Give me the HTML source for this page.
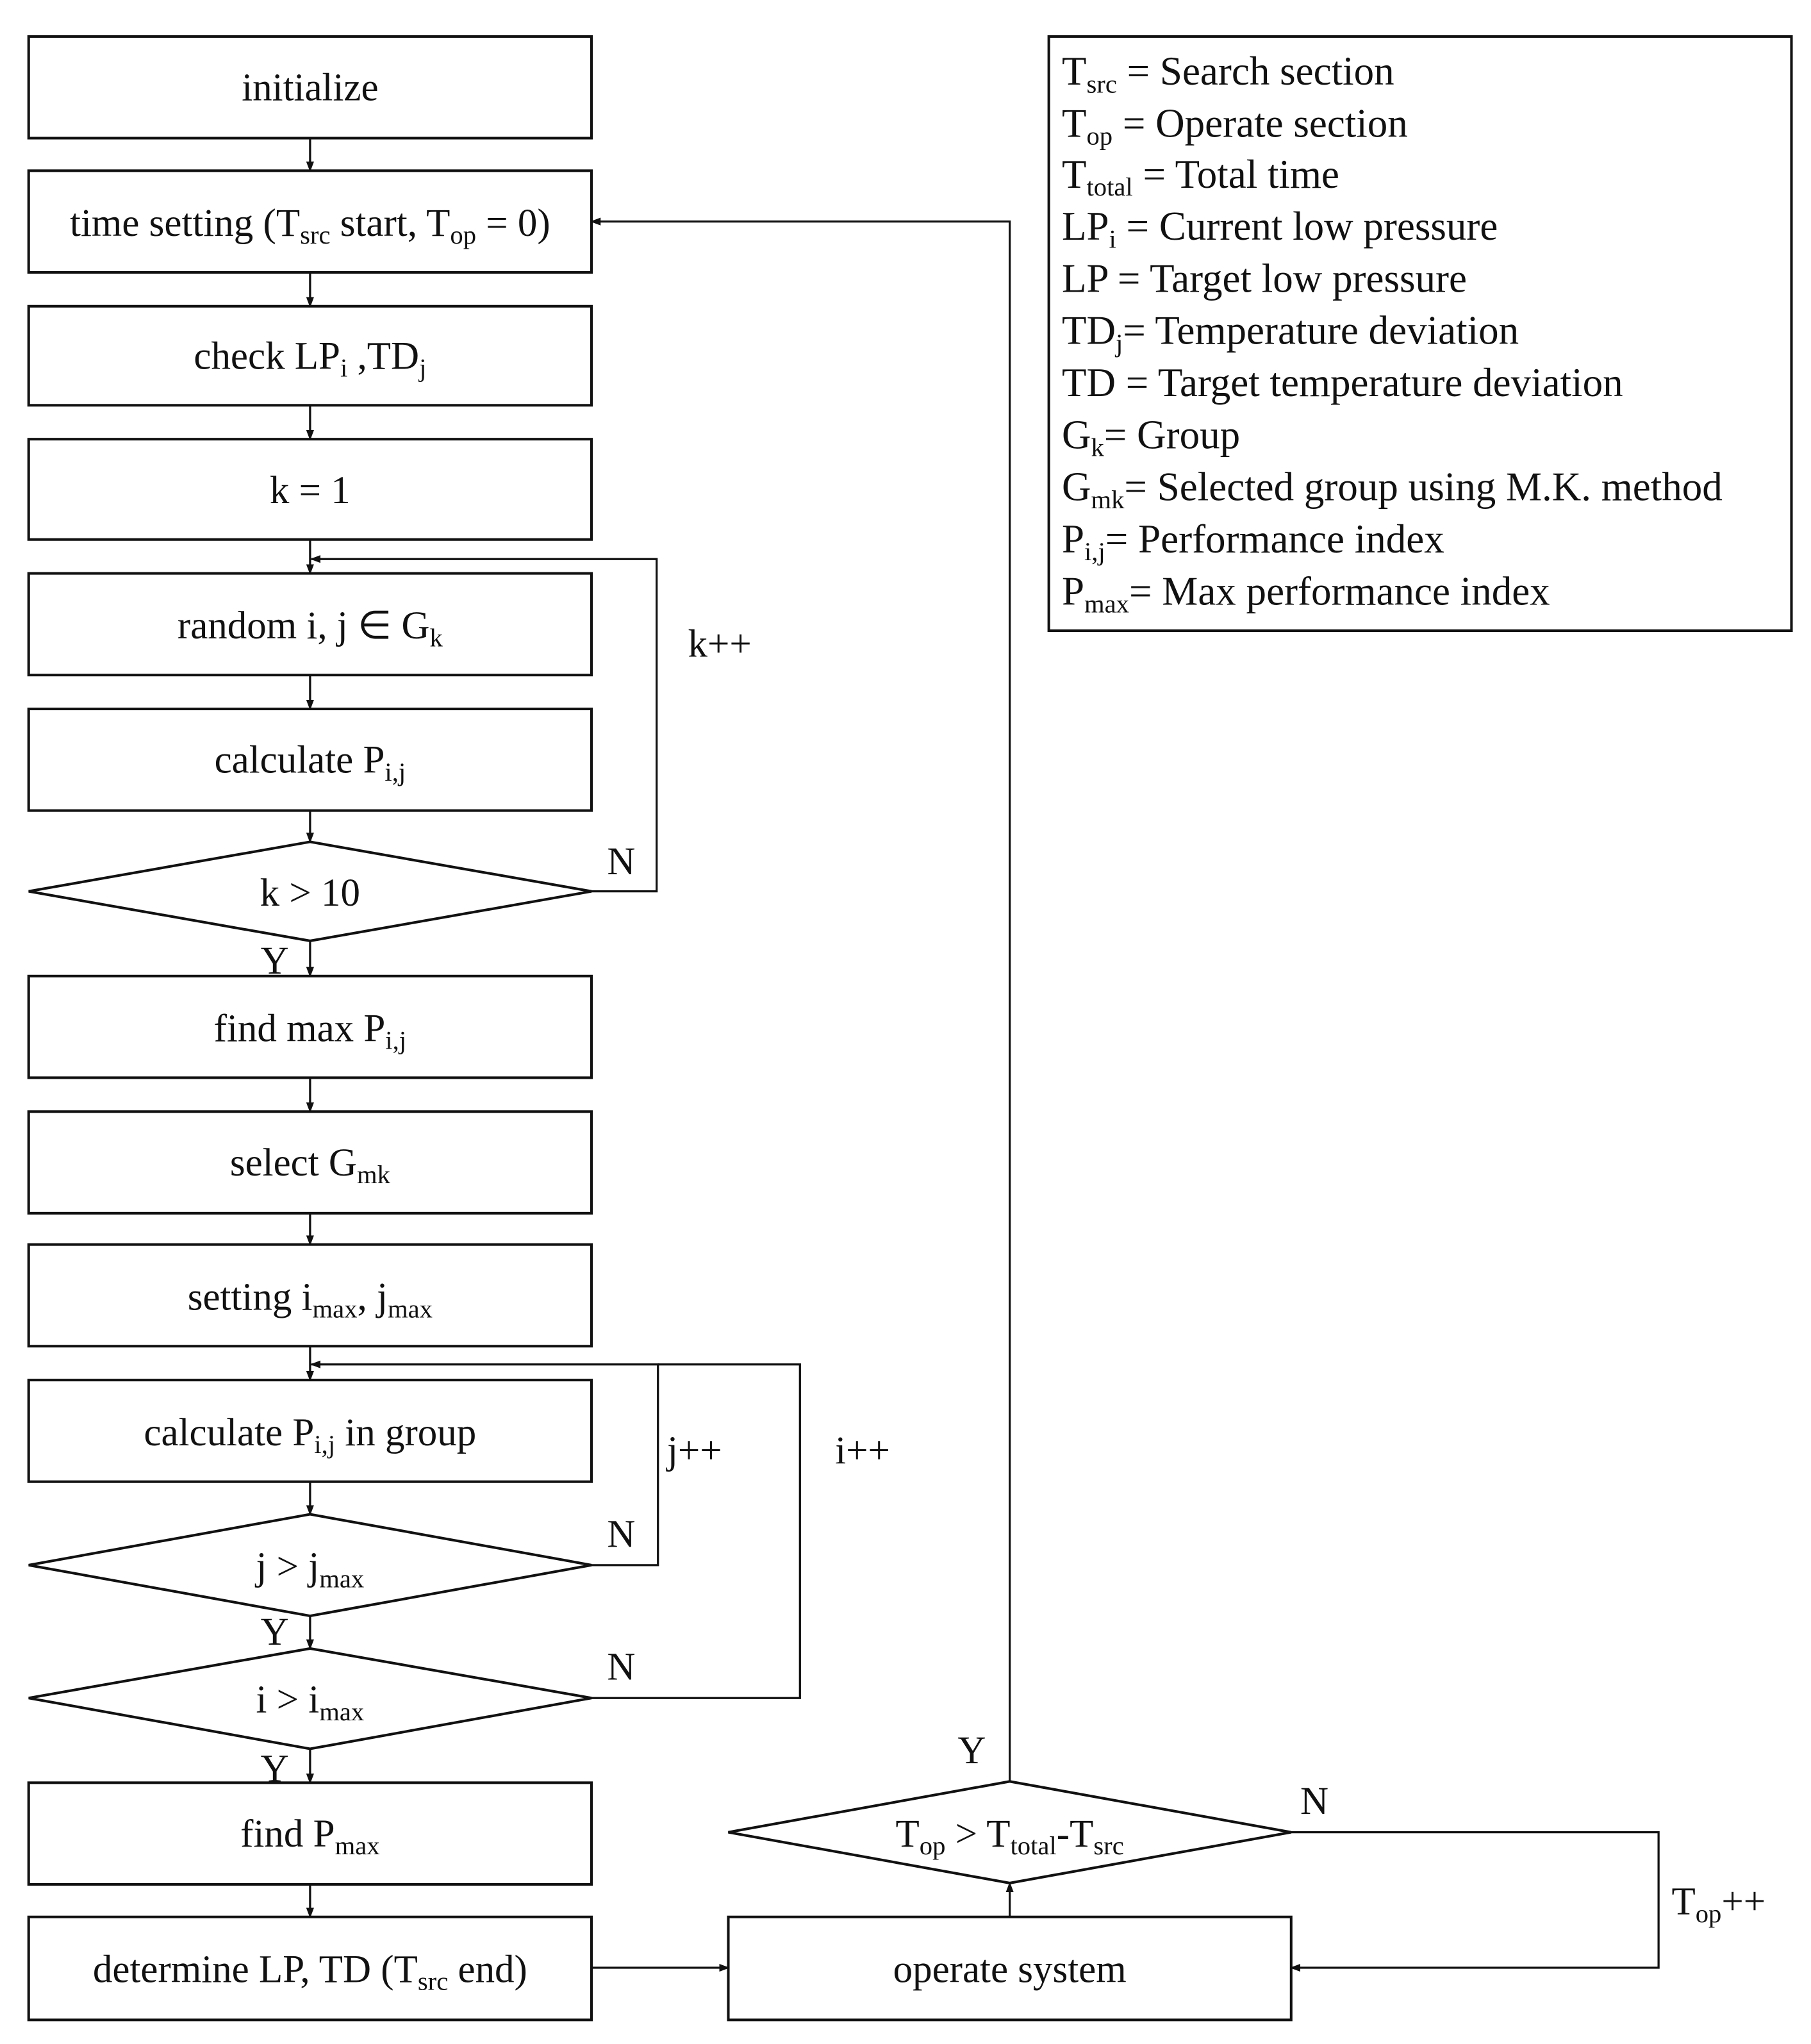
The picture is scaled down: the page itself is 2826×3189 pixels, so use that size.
<!DOCTYPE html>
<html><head><meta charset="utf-8"><style>
html,body{margin:0;padding:0;background:#fff;}
svg{display:block;}
text{font-family:"Liberation Serif",serif;font-size:30px;fill:#111;}
.s{font-size:20px;}
</style></head><body>
<svg width="2826" height="3189" viewBox="0 0 1390 1568.5" preserveAspectRatio="none" xmlns="http://www.w3.org/2000/svg">
<defs><marker id="a" markerWidth="8" markerHeight="8" refX="7" refY="4" orient="auto" markerUnits="userSpaceOnUse"><path d="M0,1 L8,4 L0,7 z" fill="#111"/></marker></defs>
<g fill="#fff" stroke="#111" stroke-width="2">
<rect x="22" y="28" width="432" height="78"/>
<rect x="22" y="131" width="432" height="78"/>
<rect x="22" y="235" width="432" height="76"/>
<rect x="22" y="337" width="432" height="77"/>
<rect x="22" y="440" width="432" height="78"/>
<rect x="22" y="544" width="432" height="78"/>
<polygon points="22,684 238,646 454,684 238,722"/>
<rect x="22" y="749" width="432" height="78"/>
<rect x="22" y="853" width="432" height="78"/>
<rect x="22" y="955" width="432" height="78"/>
<rect x="22" y="1059" width="432" height="78"/>
<polygon points="22,1201 238,1162 454,1201 238,1240"/>
<polygon points="22,1303 238,1265 454,1303 238,1342"/>
<rect x="22" y="1368" width="432" height="78"/>
<rect x="22" y="1471" width="432" height="79"/>
<rect x="559" y="1471" width="432" height="79"/>
<polygon points="559,1406 775,1367 991,1406 775,1445"/>
<rect x="805" y="28" width="570" height="456"/>
</g>
<g stroke="#111" stroke-width="1.6" fill="none" marker-end="url(#a)">
<line x1="238" y1="106" x2="238" y2="131"/>
<line x1="238" y1="209" x2="238" y2="235"/>
<line x1="238" y1="311" x2="238" y2="337"/>
<line x1="238" y1="414" x2="238" y2="440"/>
<line x1="238" y1="518" x2="238" y2="544"/>
<line x1="238" y1="622" x2="238" y2="646"/>
<line x1="238" y1="722" x2="238" y2="749"/>
<line x1="238" y1="827" x2="238" y2="853"/>
<line x1="238" y1="931" x2="238" y2="955"/>
<line x1="238" y1="1033" x2="238" y2="1059"/>
<line x1="238" y1="1137" x2="238" y2="1162"/>
<line x1="238" y1="1240" x2="238" y2="1265"/>
<line x1="238" y1="1342" x2="238" y2="1368"/>
<line x1="238" y1="1446" x2="238" y2="1471"/>
<polyline points="454,684 504,684 504,429 239,429"/>
<polyline points="454,1201 505,1201 505,1047 239,1047"/>
<polyline points="775,1367 775,170 454,170"/>
<polyline points="991,1406 1273,1406 1273,1510 991,1510"/>
<line x1="454" y1="1510" x2="559" y2="1510"/>
<line x1="775" y1="1471" x2="775" y2="1445"/>
</g>
<polyline points="454,1303 614,1303 614,1047 505,1047" stroke="#111" stroke-width="1.6" fill="none"/>
<g text-anchor="middle">
<text x="238" y="77">initialize</text>
<text x="238" y="181">time setting (T<tspan class="s" dy="6">src</tspan><tspan dy="-6"> start, T</tspan><tspan class="s" dy="6">op</tspan><tspan dy="-6"> = 0)</tspan></text>
<text x="238" y="283">check LP<tspan class="s" dy="6">i</tspan><tspan dy="-6"> ,TD</tspan><tspan class="s" dy="6">j</tspan></text>
<text x="238" y="386">k = 1</text>
<text x="238" y="490">random i, j ∈ G<tspan class="s" dy="6">k</tspan></text>
<text x="238" y="593">calculate P<tspan class="s" dy="6">i,j</tspan></text>
<text x="238" y="695">k &gt; 10</text>
<text x="238" y="799">find max P<tspan class="s" dy="6">i,j</tspan></text>
<text x="238" y="902">select G<tspan class="s" dy="6">mk</tspan></text>
<text x="238" y="1005">setting i<tspan class="s" dy="6">max</tspan><tspan dy="-6">, j</tspan><tspan class="s" dy="6">max</tspan></text>
<text x="238" y="1109">calculate P<tspan class="s" dy="6">i,j</tspan><tspan dy="-6"> in group</tspan></text>
<text x="238" y="1212">j &gt; j<tspan class="s" dy="6">max</tspan></text>
<text x="238" y="1314">i &gt; i<tspan class="s" dy="6">max</tspan></text>
<text x="238" y="1417">find P<tspan class="s" dy="6">max</tspan></text>
<text x="238" y="1521">determine LP, TD (T<tspan class="s" dy="6">src</tspan><tspan dy="-6"> end)</tspan></text>
<text x="775" y="1521">operate system</text>
<text x="775" y="1417">T<tspan class="s" dy="6">op</tspan><tspan dy="-6"> &gt; T</tspan><tspan class="s" dy="6">total</tspan><tspan dy="-6">-T</tspan><tspan class="s" dy="6">src</tspan></text>
</g>
<text x="528" y="504">k++</text>
<text x="466" y="671">N</text>
<text x="200" y="747">Y</text>
<text x="512" y="1123">j++</text>
<text x="641" y="1123">i++</text>
<text x="466" y="1187">N</text>
<text x="466" y="1289">N</text>
<text x="200" y="1262">Y</text>
<text x="200" y="1367">Y</text>
<text x="735" y="1353">Y</text>
<text x="998" y="1392">N</text>
<text x="1283" y="1469">T<tspan class="s" dy="6">op</tspan><tspan dy="-6">++</tspan></text>
<g font-size="31">
<text x="815" y="65" style="font-size:31px">T<tspan class="s" dy="6">src</tspan><tspan dy="-6"> = Search section</tspan></text>
<text x="815" y="105" style="font-size:31px">T<tspan class="s" dy="6">op</tspan><tspan dy="-6"> = Operate section</tspan></text>
<text x="815" y="144" style="font-size:31px">T<tspan class="s" dy="6">total</tspan><tspan dy="-6"> = Total time</tspan></text>
<text x="815" y="184" style="font-size:31px">LP<tspan class="s" dy="6">i</tspan><tspan dy="-6"> = Current low pressure</tspan></text>
<text x="815" y="224" style="font-size:31px">LP = Target low pressure</text>
<text x="815" y="264" style="font-size:31px">TD<tspan class="s" dy="6">j</tspan><tspan dy="-6">= Temperature deviation</tspan></text>
<text x="815" y="304" style="font-size:31px">TD = Target temperature deviation</text>
<text x="815" y="344" style="font-size:31px">G<tspan class="s" dy="6">k</tspan><tspan dy="-6">= Group</tspan></text>
<text x="815" y="384" style="font-size:31px">G<tspan class="s" dy="6">mk</tspan><tspan dy="-6">= Selected group using M.K. method</tspan></text>
<text x="815" y="424" style="font-size:31px">P<tspan class="s" dy="6">i,j</tspan><tspan dy="-6">= Performance index</tspan></text>
<text x="815" y="464" style="font-size:31px">P<tspan class="s" dy="6">max</tspan><tspan dy="-6">= Max performance index</tspan></text>
</g>
</svg>
</body></html>
